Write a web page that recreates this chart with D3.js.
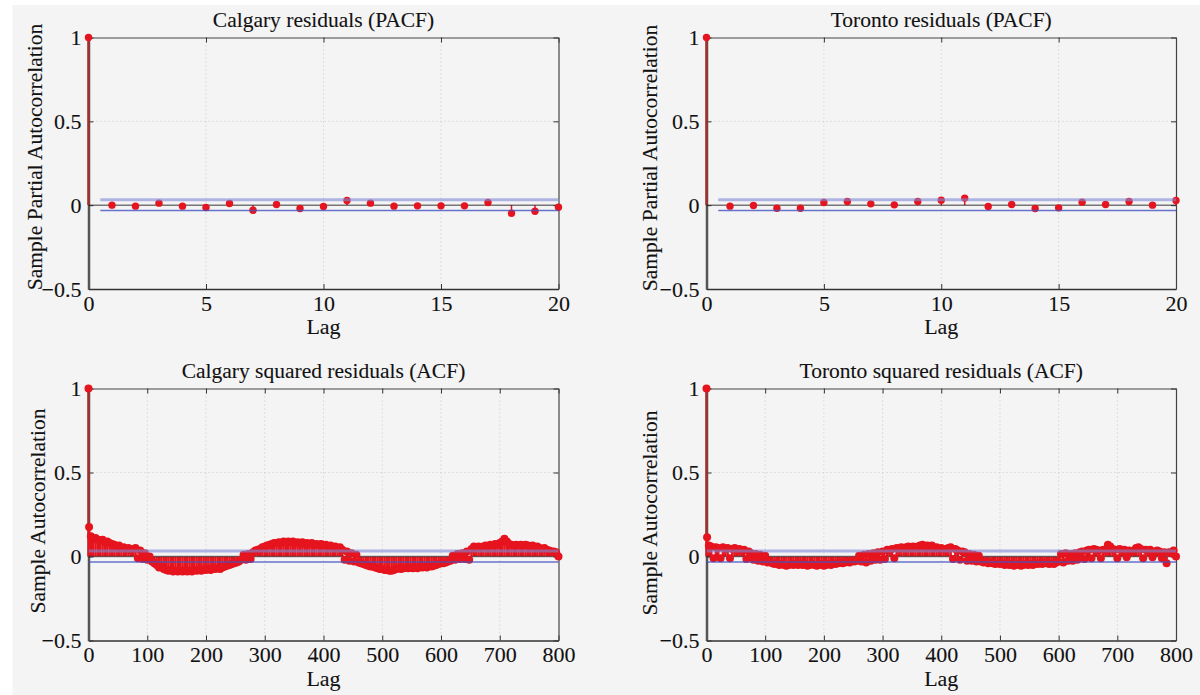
<!DOCTYPE html>
<html>
<head>
<meta charset="utf-8">
<script src="https://cdn.jsdelivr.net/npm/d3@7"></script>
<style>
body { margin: 0; background: #fff; }
svg { display: block; font-family: "Liberation Serif", "Times New Roman", serif; }
svg text { stroke: #111; stroke-width: 0.1px; }
</style>
</head>
<body>
<div id="chart"></div>
<script>
// Lags for the PACF panels (0..20)
const pacfLags = [0, 1, 2, 3, 4, 5, 6, 7, 8, 9, 10, 11, 12, 13, 14, 15, 16, 17, 18, 19, 20];

// Sample partial autocorrelation of the residuals
const calgaryPacf = [1, 0.0, -0.006, 0.012, -0.006, -0.014, 0.01, -0.03, 0.004, -0.02, -0.008,
                     0.028, 0.012, -0.006, -0.004, -0.004, -0.004, 0.016, -0.048, -0.036, -0.012];
const torontoPacf = [1, -0.006, -0.002, -0.018, -0.018, 0.016, 0.022, 0.008, 0.002, 0.022, 0.03,
                     0.042, -0.008, 0.004, -0.02, -0.016, 0.018, 0.004, 0.022, 0, 0.028];

// Lags read for the ACF panels: 0, 1, then every 4th lag up to 800
const acfLags = [0, 1].concat(d3.range(4, 801, 4));

// Sample autocorrelation of the squared residuals
const calgarySqAcf = [1, 0.175,
  0.12, 0.105, 0.11, 0.1, 0.095, 0.1, 0.085, 0.09, 0.08, 0.075,
  0.07, 0.06, 0.065, 0.05, 0.055, 0.045, 0.05, 0.04, 0.045, 0.05,
  -0.01, 0.035, -0.015, 0.02, -0.02, 0.0, -0.03, -0.04, -0.05, -0.065,
  -0.06, -0.075, -0.08, -0.085, -0.08, -0.09, -0.085, -0.09, -0.085, -0.09,
  -0.08, -0.09, -0.085, -0.09, -0.08, -0.085, -0.08, -0.085, -0.075, -0.08,
  -0.075, -0.08, -0.07, -0.075, -0.07, -0.075, -0.065, -0.06, -0.055, -0.05,
  -0.045, -0.04, -0.035, -0.03, -0.02, 0.01, -0.02, 0.015, -0.015, 0.025,
  0.035, 0.04, 0.045, 0.055, 0.06, 0.065, 0.07, 0.075, 0.08, 0.08,
  0.085, 0.08, 0.09, 0.085, 0.09, 0.085, 0.09, 0.08, 0.085, 0.08,
  0.085, 0.075, 0.08, 0.075, 0.08, 0.07, 0.075, 0.07, 0.075, 0.065,
  0.07, 0.06, 0.065, 0.055, 0.06, 0.05, 0.055, 0.04, -0.02, 0.03,
  -0.025, 0.02, -0.03, 0.01, -0.035, -0.04, -0.045, -0.05, -0.055, -0.06,
  -0.06, -0.065, -0.07, -0.075, -0.075, -0.08, -0.08, -0.085, -0.085, -0.08,
  -0.075, -0.07, -0.075, -0.07, -0.065, -0.07, -0.065, -0.07, -0.065, -0.07,
  -0.06, -0.065, -0.06, -0.065, -0.055, -0.06, -0.055, -0.05, -0.045, -0.04,
  -0.04, -0.035, -0.03, -0.025, 0.005, -0.02, 0.015, -0.015, 0.02, -0.015,
  0.03, -0.02, 0.045, 0.06, 0.055, 0.06, 0.055, 0.06, 0.065, 0.06,
  0.07, 0.065, 0.075, 0.07, 0.08, 0.09, 0.105, 0.09, 0.075, 0.07,
  0.065, 0.07, 0.065, 0.07, 0.065, 0.07, 0.065, 0.06, 0.065, 0.055,
  0.06, 0.05, 0.045, 0.05, 0.04, 0.035, 0.03, 0.03, 0.025, 0.0];

const torontoSqAcf = [1, 0.115,
  0.065, 0.06, -0.01, 0.055, 0.05, -0.01, 0.055, 0.045, 0.05, -0.01,
  0.045, 0.05, 0.04, 0.045, 0.035, 0.04, -0.015, 0.03, 0.02, -0.02,
  0.015, -0.025, 0.01, -0.03, 0.005, -0.035, -0.03, -0.04, -0.045, -0.04,
  -0.05, -0.045, -0.05, -0.055, -0.05, -0.045, -0.05, -0.045, -0.05, -0.04,
  -0.05, -0.045, -0.055, -0.05, -0.045, -0.05, -0.055, -0.05, -0.045, -0.055,
  -0.05, -0.045, -0.05, -0.04, -0.045, -0.04, -0.035, -0.04, -0.035, -0.03,
  -0.035, -0.025, -0.03, -0.025, 0.005, -0.03, 0.01, -0.035, 0.015, -0.025,
  0.02, -0.02, 0.025, -0.02, 0.03, -0.015, 0.04, 0.035, 0.045, -0.01,
  0.05, 0.045, 0.055, 0.05, 0.055, 0.06, 0.05, 0.06, 0.055, 0.06,
  0.065, 0.07, 0.06, 0.065, 0.055, 0.065, 0.05, 0.055, 0.045, 0.05,
  0.045, 0.04, 0.05, 0.055, -0.015, 0.045, 0.035, -0.02, 0.03, 0.025,
  -0.025, 0.015, -0.025, 0.01, -0.03, 0.005, -0.03, -0.035, -0.03, -0.04,
  -0.035, -0.04, -0.045, -0.04, -0.045, -0.04, -0.05, -0.045, -0.05, -0.045,
  -0.055, -0.05, -0.045, -0.055, -0.05, -0.045, -0.05, -0.045, -0.05, -0.04,
  -0.045, -0.04, -0.045, -0.035, -0.04, -0.045, -0.04, -0.045, -0.035, -0.03,
  0.015, -0.035, 0.02, -0.025, 0.015, -0.025, 0.02, -0.02, 0.025, 0.03,
  -0.015, 0.035, 0.04, -0.01, 0.045, 0.04, 0.035, -0.01, 0.04, 0.035,
  0.07, 0.06, 0.045, 0.04, -0.01, 0.045, 0.035, 0.04, -0.005, 0.035,
  0.03, 0.035, 0.05, 0.055, 0.045, -0.01, 0.04, 0.035, 0.04, -0.005,
  0.03, 0.035, 0.03, -0.01, 0.025, -0.04, 0.025, 0.02, 0.035, 0.0];

// Approximate 95% confidence bound
const confBound = 0.032;

// Ticks
const pacfTicks = [0, 5, 10, 15, 20];
const acfTicks = [0, 100, 200, 300, 400, 500, 600, 700, 800];
const yTicks = [-0.5, 0, 0.5, 1];
const yTickLabels = ["\u22120.5", "0", "0.5", "1"];

const width = 1200;
const height = 695;
const serif = '"Liberation Serif", "Times New Roman", serif';

const svg = d3.select('#chart')
  .append('svg')
  .attr('width', width)
  .attr('height', height);

// Figure background
svg.append('rect')
  .attr('x', 12.5).attr('y', 5)
  .attr('width', width - 12.5).attr('height', height - 5)
  .attr('fill', '#f4f4f4');

var drawPanel = function(p) {
  const x = d3.scaleLinear().domain(p.xDomain).range([p.left, p.right]);
  const y = d3.scaleLinear().domain([-0.5, 1]).range([p.bottom, p.top]);
  const g = svg.append('g');

  // Dotted grid
  g.append('g')
    .selectAll('line')
    .data(p.xTicks.slice(1, -1))
    .join('line')
    .attr('x1', d => x(d)).attr('x2', d => x(d))
    .attr('y1', p.top).attr('y2', p.bottom)
    .attr('stroke', '#c8c8c8')
    .attr('stroke-dasharray', '1,3');
  g.append('line')
    .attr('x1', p.left).attr('x2', p.right)
    .attr('y1', y(0.5)).attr('y2', y(0.5))
    .attr('stroke', '#c8c8c8')
    .attr('stroke-dasharray', '1,3');

  // Axes (ticks inside, box around)
  const tickFont = g => g
    .attr('font-size', 22)
    .attr('font-family', serif)
    .call(g => g.selectAll('text').attr('fill', '#111'))
    .call(g => g.selectAll('.tick line').attr('stroke', '#333'));

  g.append('g')
    .attr('transform', `translate(0,${p.bottom})`)
    .call(d3.axisBottom(x).tickValues(p.xTicks).tickSizeInner(-5).tickSizeOuter(0).tickPadding(6))
    .call(tickFont)
    .call(g => g.select('.domain').attr('stroke', '#333').attr('stroke-width', 1.5));
  g.append('g')
    .attr('transform', `translate(0,${p.top})`)
    .call(d3.axisTop(x).tickValues(p.xTicks).tickSizeInner(-5).tickSizeOuter(0).tickFormat(''))
    .call(tickFont)
    .call(g => g.select('.domain').attr('stroke', '#444').attr('stroke-width', 1.2));
  g.append('g')
    .attr('transform', `translate(${p.left},0)`)
    .call(d3.axisLeft(y).tickValues(yTicks).tickSizeInner(-5).tickSizeOuter(0).tickPadding(7)
      .tickFormat((d, i) => yTickLabels[i]))
    .call(tickFont)
    .call(g => g.select('.domain').attr('stroke', '#555').attr('stroke-width', 2.5));
  g.append('g')
    .attr('transform', `translate(${p.right},0)`)
    .call(d3.axisRight(y).tickValues(yTicks).tickSizeInner(-5).tickSizeOuter(0).tickFormat(''))
    .call(tickFont)
    .call(g => g.select('.domain').attr('stroke', '#444').attr('stroke-width', 1.2));

  const pts = p.lags.map((l, i) => ({ lag: l, value: p.values[i] }));

  // Stems
  g.append('g')
    .selectAll('line')
    .data(pts)
    .join('line')
    .attr('x1', d => x(d.lag)).attr('x2', d => x(d.lag))
    .attr('y1', y(0)).attr('y2', d => y(d.value))
    .attr('stroke', d => d.lag === 0 ? '#a3302e' : '#e6141e')
    .attr('stroke-width', d => d.lag === 0 ? 2.5 : p.stemWidth);

  // Zero line
  g.append('line')
    .attr('x1', p.left).attr('x2', p.right)
    .attr('y1', y(0)).attr('y2', y(0))
    .attr('stroke', '#222')
    .attr('stroke-opacity', 0.6)
    .attr('stroke-width', 1.5);

  // Markers
  g.append('g')
    .selectAll('circle')
    .data(pts)
    .join('circle')
    .attr('cx', d => x(d.lag))
    .attr('cy', d => y(d.value))
    .attr('r', p.markerR)
    .attr('fill', '#e6141e');

  // Confidence bounds
  g.append('line')
    .attr('x1', x(0.5)).attr('x2', x(p.xDomain[1]))
    .attr('y1', y(confBound)).attr('y2', y(confBound))
    .attr('stroke', '#7f88d6')
    .attr('stroke-opacity', 0.6)
    .attr('stroke-width', 3);
  g.append('line')
    .attr('x1', x(0.5)).attr('x2', x(p.xDomain[1]))
    .attr('y1', y(-confBound)).attr('y2', y(-confBound))
    .attr('stroke', '#4452c0')
    .attr('stroke-opacity', 0.8)
    .attr('stroke-width', 1.5);

  // Title and axis labels
  const cx = (p.left + p.right) / 2;
  g.append('text')
    .attr('x', cx).attr('y', p.top - 11)
    .attr('text-anchor', 'middle')
    .attr('font-size', 21.5)
    .attr('fill', '#111')
    .text(p.title);
  g.append('text')
    .attr('x', cx).attr('y', p.bottom + 45)
    .attr('text-anchor', 'middle')
    .attr('font-size', 22)
    .attr('fill', '#111')
    .text('Lag');
  g.append('text')
    .attr('transform', `translate(${p.yLabelX},${p.yLabelY}) rotate(-90)`)
    .attr('text-anchor', 'middle')
    .attr('font-size', 21.5)
    .attr('fill', '#111')
    .text(p.yLabel);
};

drawPanel({
  title: 'Calgary residuals (PACF)', yLabel: 'Sample Partial Autocorrelation',
  lags: pacfLags, values: calgaryPacf, xDomain: [0, 20], xTicks: pacfTicks,
  left: 88.5, right: 558.5, top: 37.5, bottom: 289,
  yLabelX: 42, yLabelY: 157, stemWidth: 1.5, markerR: 3.7
});
drawPanel({
  title: 'Toronto residuals (PACF)', yLabel: 'Sample Partial Autocorrelation',
  lags: pacfLags, values: torontoPacf, xDomain: [0, 20], xTicks: pacfTicks,
  left: 706.5, right: 1176, top: 37.5, bottom: 289,
  yLabelX: 657, yLabelY: 158, stemWidth: 1.5, markerR: 3.7
});
drawPanel({
  title: 'Calgary squared residuals (ACF)', yLabel: 'Sample Autocorrelation',
  lags: acfLags, values: calgarySqAcf, xDomain: [0, 800], xTicks: acfTicks,
  left: 88.5, right: 558.5, top: 388.5, bottom: 640.5,
  yLabelX: 44.5, yLabelY: 511, stemWidth: 2.5, markerR: 4
});
drawPanel({
  title: 'Toronto squared residuals (ACF)', yLabel: 'Sample Autocorrelation',
  lags: acfLags, values: torontoSqAcf, xDomain: [0, 800], xTicks: acfTicks,
  left: 706.5, right: 1176, top: 388.5, bottom: 640.5,
  yLabelX: 657, yLabelY: 513, stemWidth: 2.5, markerR: 4
});
</script>
</body>
</html>
